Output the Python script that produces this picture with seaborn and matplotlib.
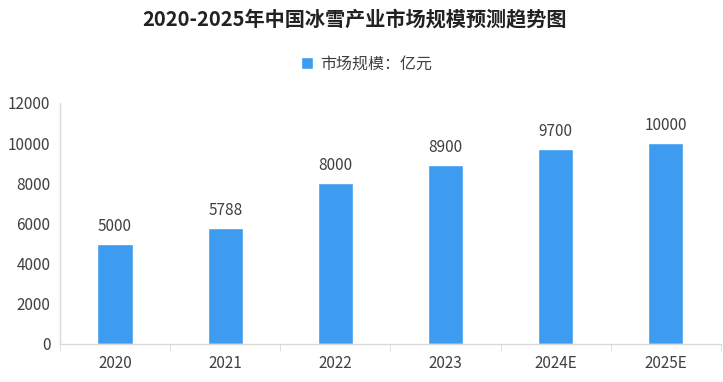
import matplotlib
matplotlib.use('Agg')
import matplotlib.pyplot as plt
import seaborn as sns
import pandas as pd
import numpy as np

years = ['2020', '2021', '2022', '2023', '2024E', '2025E']
market_size = [5000, 5788, 8000, 8900, 9700, 10000]
series_name = '市场规模：亿元'

sns.set_style('white')
plt.rcParams['font.family'] = ['Noto Sans CJK SC', 'DejaVu Sans']

BAR_COLOR = '#3d9cf0'
TEXT_COLOR = '#404040'
AXIS_COLOR = '#d9d9d9'

df = pd.DataFrame({'year': years, 'value': market_size, 'series': series_name})

fig = plt.figure(figsize=(7.23, 3.82), dpi=100)
ax = fig.add_axes([0.083, 0.0995, 0.914, 0.631])

sns.barplot(data=df, x='year', y='value', hue='series', palette=[BAR_COLOR],
            width=0.32, ax=ax, saturation=1)

# valeurs au-dessus des barres
for i, v in enumerate(market_size):
    ax.text(i, v + 450, str(v), ha='center', va='bottom',
            fontsize=11, color=TEXT_COLOR)

ax.set_ylim(0, 12000)
ax.set_yticks(range(0, 12001, 2000))
ax.set_xlim(-0.5, len(years) - 0.5)
ax.set_xlabel('')
ax.set_ylabel('')

# tick marks between categories
ax.set_xticks(np.arange(-0.5, len(years), 1), minor=True)
ax.tick_params(axis='x', which='major', length=0, pad=8, labelsize=11, labelcolor=TEXT_COLOR)
ax.tick_params(axis='x', which='minor', length=5, color=AXIS_COLOR, direction='out', bottom=True)
ax.tick_params(axis='y', length=0, pad=7, labelsize=11, labelcolor=TEXT_COLOR)

for side in ['top', 'right']:
    ax.spines[side].set_visible(False)
for side in ['left', 'bottom']:
    ax.spines[side].set_color(AXIS_COLOR)
    ax.spines[side].set_linewidth(1)

ax.legend(loc='center', bbox_to_anchor=(0.464, 1.16), frameon=False,
          fontsize=11.5, handlelength=0.75, handleheight=0.75, handletextpad=0.5,
          labelcolor=TEXT_COLOR)

fig.text(0.491, 0.95, '2020-2025年中国冰雪产业市场规模预测趋势图', ha='center', va='center',
         fontsize=14.5, fontweight='bold', color='#222222')

fig.savefig('out.png', dpi=100)
